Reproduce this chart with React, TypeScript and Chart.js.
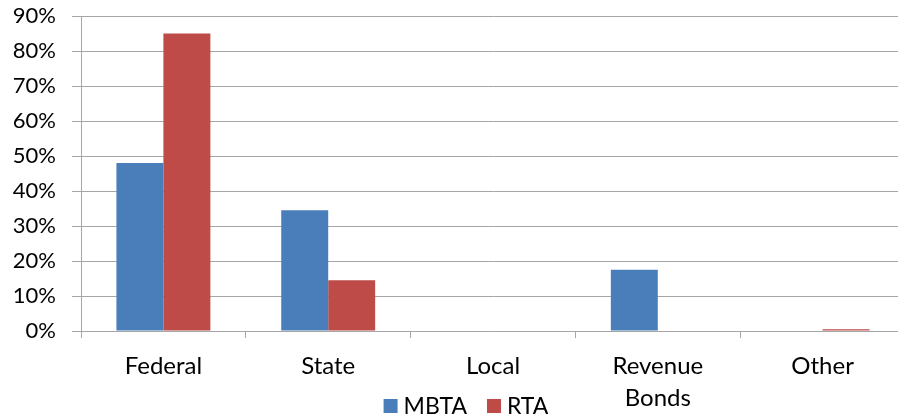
import React, { useEffect, useRef } from "react";
import Chart from "chart.js/auto";

// Funding source shares (percent of total) for MBTA and the RTAs
const categories: (string | string[])[] = ["Federal", "State", "Local", ["Revenue", "Bonds"], "Other"];
const mbtaValues = [48, 34.5, 0, 17.5, 0];
const rtaValues = [85, 14.5, 0, 0, 0.5];
const yTickMax = 90;
const yTickStep = 10;

const BLUE = "#4A7EBB";
const RED = "#BE4B48";
const GRID = "#A6A6A6";
const FONT = "Lato, 'Open Sans', sans-serif";

// Canvas runs a little past the visible frame so the last category is cut at the edge
const CANVAS_W = 905;
const CANVAS_H = 418;

// Legend drawn beneath the axis labels, in the Office style (square swatches)
const bottomLegend = {
  id: "bottomLegend",
  afterDraw(chart: any) {
    const ctx = chart.ctx as CanvasRenderingContext2D;
    const box = 14;
    const gap = 6;
    const itemGap = 20;
    ctx.save();
    ctx.font = `23px ${FONT}`;
    ctx.textBaseline = "middle";
    ctx.textAlign = "left";
    const items = chart.data.datasets.map((ds: any) => ({
      label: ds.label as string,
      color: ds.backgroundColor as string,
      w: box + gap + ctx.measureText(ds.label).width,
    }));
    const total = items.reduce((s: number, it: any) => s + it.w, 0) + itemGap * (items.length - 1);
    let x = 466 - total / 2;
    const cy = 406;
    for (const it of items) {
      ctx.fillStyle = it.color;
      ctx.fillRect(x, cy - box / 2, box, box);
      ctx.fillStyle = "#000";
      ctx.fillText(it.label, x + box + gap, cy + 1);
      x += it.w + itemGap;
    }
    ctx.restore();
  },
};

export default function App() {
  const canvasRef = useRef<HTMLCanvasElement | null>(null);

  useEffect(() => {
    if (!canvasRef.current) return;
    const chart = new Chart(canvasRef.current, {
      type: "bar",
      data: {
        labels: categories,
        datasets: [
          { label: "MBTA", data: mbtaValues, backgroundColor: BLUE, borderWidth: 0 },
          { label: "RTA", data: rtaValues, backgroundColor: RED, borderWidth: 0 },
        ],
      },
      options: {
        responsive: false,
        animation: false,
        layout: { padding: { top: 16, right: 0, bottom: 0, left: 0 } },
        plugins: {
          legend: { display: false },
          tooltip: { enabled: false },
        },
        datasets: {
          bar: { categoryPercentage: 0.57, barPercentage: 1 },
        },
        scales: {
          x: {
            offset: true,
            grid: {
              offset: true,
              drawOnChartArea: false,
              drawTicks: true,
              tickLength: 7,
              color: GRID,
            },
            border: { color: GRID, width: 1 },
            ticks: {
              color: "#000",
              padding: 12,
              maxRotation: 0,
              autoSkip: false,
              font: { family: FONT, size: 24, lineHeight: 1.35 },
            },
            afterFit(scale: any) {
              scale.height = 87;
            },
          },
          y: {
            min: 0,
            max: yTickMax,
            grid: { color: GRID, tickLength: 9, drawTicks: true },
            border: { color: GRID, width: 1 },
            ticks: {
              stepSize: yTickStep,
              color: "#000",
              padding: 16,
              font: { family: FONT, size: 22 },
              callback: (v: any) => `${v}%`,
            },
            afterFit(scale: any) {
              scale.width = 81;
              scale.paddingTop = 0;
              scale.paddingBottom = 0;
            },
          },
        },
      },
      plugins: [bottomLegend],
    });
    return () => chart.destroy();
  }, []);

  return (
    <div style={{ position: "fixed", left: 0, top: 0, width: 898, height: 418, overflow: "hidden", background: "#fff" }}>
      <canvas ref={canvasRef} width={CANVAS_W} height={CANVAS_H} />
    </div>
  );
}
